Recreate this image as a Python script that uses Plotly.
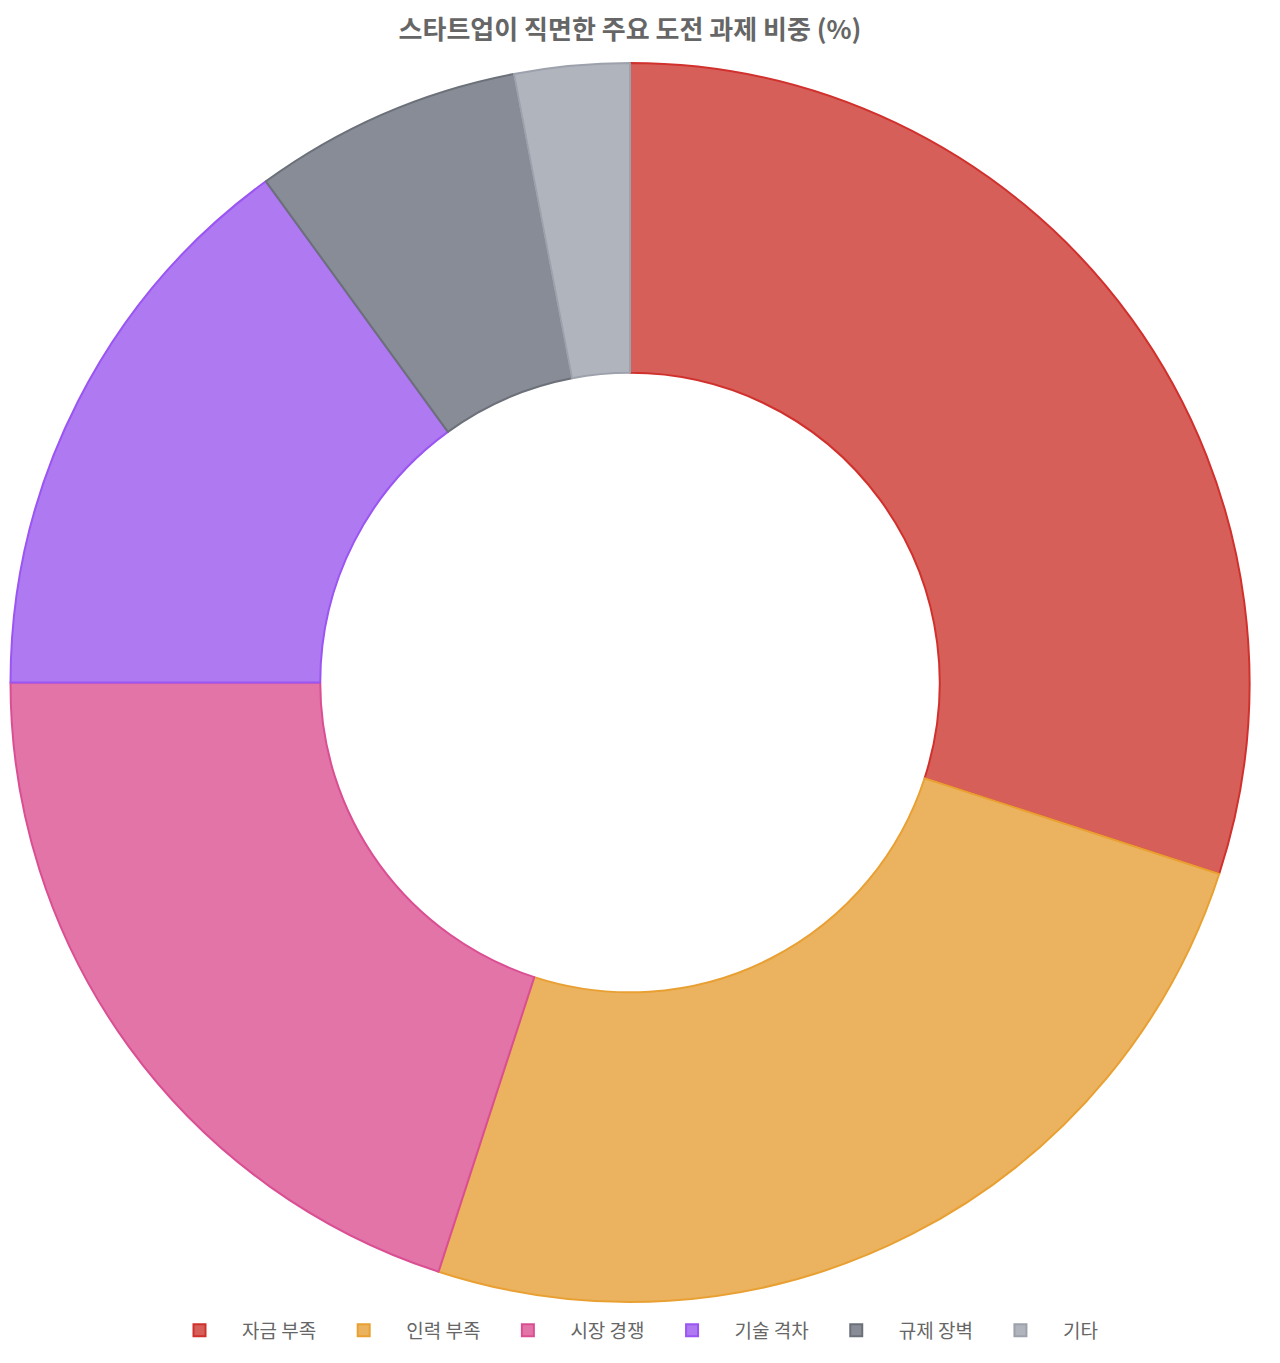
"""Doughnut chart: share of main challenges faced by startups."""

import plotly.graph_objects as go

labels = ["자금 부족", "인력 부족", "시장 경쟁", "기술 격차", "규제 장벽", "기타"]
values = [30, 25, 20, 15, 7, 3]

fill_colors = ["#D75F5A", "#EBB35F", "#E274A8", "#AE79F1", "#888C96", "#B0B4BD"]
border_colors = ["#D0312D", "#E9A033", "#DA4F93", "#9B55F2", "#6B7079", "#9CA1AB"]

FONT = "Noto Sans CJK KR, Noto Sans, sans-serif"

fig = go.Figure(
    go.Pie(
        labels=labels,
        values=values,
        hole=0.5,
        sort=False,
        direction="clockwise",
        rotation=0,
        textinfo="none",
        marker=dict(colors=fill_colors, line=dict(color=border_colors, width=2)),
        hovertemplate="%{label}: %{value}%<extra></extra>",
    )
)

# the page body adds 8px around the figure, so the size and margins allow for it
fig.update_layout(
    width=1272,
    height=1355,
    margin=dict(l=2, r=30, t=55, b=61),
    paper_bgcolor="white",
    font=dict(family=FONT, color="#666666", size=18),
    title=dict(
        text="<b>스타트업이 직면한 주요 도전 과제 비중 (%)</b>",
        xref="paper",
        x=0.5,
        xanchor="center",
        y=1 - 22 / 1355,
        yanchor="middle",
        font=dict(family=FONT, size=26, color="#666666"),
    ),
    legend=dict(
        orientation="h",
        x=0.5,
        xanchor="center",
        y=-0.023,
        yanchor="middle",
        itemwidth=75,
        font=dict(family=FONT, size=19, color="#666666"),
        itemclick=False,
    ),
)

fig.write_html("out.html")
